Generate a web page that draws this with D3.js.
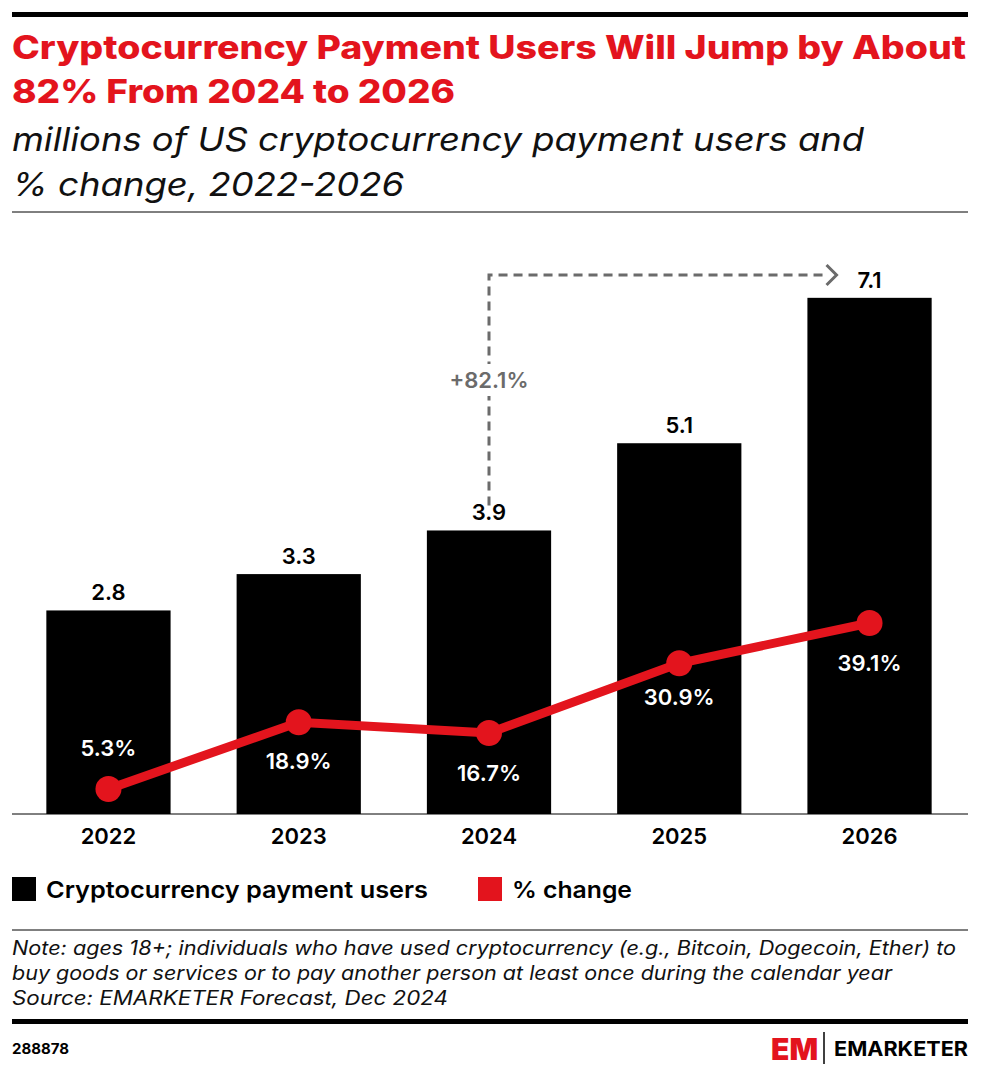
<!DOCTYPE html>
<html><head><meta charset="utf-8">
<script src="https://cdn.jsdelivr.net/npm/d3@7"></script>
<style>
body{margin:0;background:#fff;}
svg{font-family:"Inter","Noto Sans",sans-serif;}
</style></head>
<body><svg id="chart" width="985" height="1074"></svg>
<script>
const years = ["2022","2023","2024","2025","2026"];
const users = [2.8, 3.3, 3.9, 5.1, 7.1];
const change = [5.3, 18.9, 16.7, 30.9, 39.1];
const changeLabels = ["5.3%","18.9%","16.7%","30.9%","39.1%"];
const red = "#e3141d";

const svg = d3.select("#chart");
svg.append("rect").attr("x",12).attr("y",12).attr("width",956).attr("height",5).attr("fill","#000");

function fitText(t, x0, y0, len, size, attrs) {
  const el = svg.append("text").attr("x",x0).attr("y",y0).text(t).attr("font-size",size)
    .attr("textLength",len).attr("lengthAdjust","spacingAndGlyphs");
  Object.entries(attrs).forEach(([k,v])=>el.attr(k,v));
  return el;
}
const title = ["Cryptocurrency Payment Users Will Jump by About","82% From 2024 to 2026"];
const titleLen = [954, 443];
title.forEach((t,i)=>fitText(t,12,59+i*44,titleLen[i],32,{fill:red,"font-weight":800}));
const sub = ["millions of US cryptocurrency payment users and","% change, 2022-2026"];
const subLen = [852, 392];
sub.forEach((t,i)=>fitText(t,12,151+i*45,subLen[i],33,{"font-style":"italic",fill:"#111"}));
svg.append("line").attr("x1",12).attr("x2",968).attr("y1",212).attr("y2",212).attr("stroke","#000");

const x = d3.scaleBand().domain(years).range([14,964]).paddingInner(0.347).paddingOuter(0.17);
const y = d3.scaleLinear().domain([0,8]).range([814,232.4]);
const yp = d3.scaleLinear().domain([0,40]).range([815,618.6]);

svg.selectAll("rect.bar").data(users).enter().append("rect").attr("class","bar")
  .attr("x",(d,i)=>x(years[i])).attr("width",x.bandwidth())
  .attr("y",d=>y(d)).attr("height",d=>814-y(d)).attr("fill","#000");
svg.selectAll("text.val").data(users).enter().append("text")
  .attr("x",(d,i)=>x(years[i])+x.bandwidth()/2).attr("y",d=>y(d)-10)
  .attr("text-anchor","middle").attr("font-size",22).attr("font-weight",600).text(d=>d.toFixed(1));

svg.append("line").attr("x1",12).attr("x2",968).attr("y1",814).attr("y2",814).attr("stroke","#000");
const xAxis = svg.append("g").attr("transform","translate(0,814)")
  .call(d3.axisBottom(x).tickSize(0).tickPadding(14));
xAxis.select(".domain").remove();
xAxis.selectAll("text").attr("font-size",22).attr("font-weight",600).attr("fill","#000")
  .attr("font-family","Inter,sans-serif");

// annotation
const ax1 = x("2024")+x.bandwidth()/2, ax2 = x("2026")+x.bandwidth()/2 - 45;
svg.append("path").attr("d",`M${ax1},${y(3.9)-25}V275H${ax2}`)
  .attr("fill","none").attr("stroke","#6b6b6b").attr("stroke-width",3).attr("stroke-dasharray","9,6");
svg.append("path").attr("d",`M${ax2+2},265L${ax2+12},275L${ax2+2},285`)
  .attr("fill","none").attr("stroke","#6b6b6b").attr("stroke-width",3);
svg.append("rect").attr("x",ax1-52).attr("y",364).attr("width",104).attr("height",32).attr("fill","#fff");
svg.append("text").attr("x",ax1).attr("y",388).attr("text-anchor","middle").attr("font-size",22)
  .attr("font-weight",600).attr("fill","#6b6b6b").text("+82.1%");

const line = d3.line().x((d,i)=>x(years[i])+x.bandwidth()/2).y(d=>yp(d));
svg.append("path").datum(change).attr("d",line).attr("fill","none").attr("stroke",red).attr("stroke-width",9);
svg.selectAll("circle").data(change).enter().append("circle")
  .attr("cx",(d,i)=>x(years[i])+x.bandwidth()/2).attr("cy",d=>yp(d)).attr("r",13).attr("fill",red);
const labOff = [-33,47,48,42,48];
svg.selectAll("text.pct").data(change).enter().append("text")
  .attr("x",(d,i)=>x(years[i])+x.bandwidth()/2).attr("y",(d,i)=>yp(d)+labOff[i])
  .attr("text-anchor","middle").attr("font-size",22).attr("font-weight",600).attr("fill","#fff")
  .text((d,i)=>changeLabels[i]);

// legend
svg.append("rect").attr("x",12).attr("y",877).attr("width",24).attr("height",24).attr("fill","#000");
fitText("Cryptocurrency payment users",46,898,382,23,{"font-weight":600});
svg.append("rect").attr("x",478).attr("y",877).attr("width",24).attr("height",24).attr("fill",red);
fitText("% change",512,898,120,23,{"font-weight":600});
svg.append("line").attr("x1",12).attr("x2",968).attr("y1",930).attr("y2",930).attr("stroke","#000");

const notes = ["Note: ages 18+; individuals who have used cryptocurrency (e.g., Bitcoin, Dogecoin, Ether) to",
 "buy goods or services or to pay another person at least once during the calendar year",
 "Source: EMARKETER Forecast, Dec 2024"];
const noteLen = [944, 880, 436];
notes.forEach((t,i)=>fitText(t,12,955+i*25,noteLen[i],19.5,{"font-style":"italic",fill:"#111"}));
svg.append("rect").attr("x",12).attr("y",1019).attr("width",956).attr("height",5).attr("fill","#000");
svg.append("text").attr("x",12).attr("y",1054).attr("font-size",15).attr("font-weight",700).text("288878");
// logo
svg.append("text").attr("x",771).attr("y",1060).attr("font-size",30).attr("font-weight",900).attr("fill",red).text("EM");
svg.append("line").attr("x1",824).attr("x2",824).attr("y1",1032).attr("y2",1064).attr("stroke","#000").attr("stroke-width",1.5);
fitText("EMARKETER",834,1056,134,20,{"font-weight":700});
</script></body></html>
